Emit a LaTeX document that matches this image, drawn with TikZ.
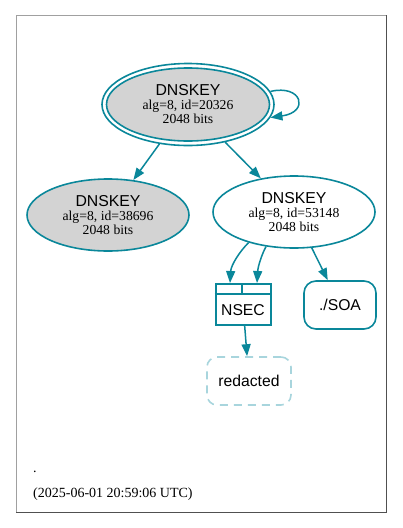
\documentclass[tikz,border=0pt]{standalone}
\usepackage{fontspec}
\setmainfont{Liberation Serif}
\setsansfont{Liberation Sans}
\usetikzlibrary{arrows.meta,shapes.geometric}
\definecolor{teal}{RGB}{10,135,154}
\definecolor{keygray}{RGB}{211,211,211}
\definecolor{paleteal}{RGB}{168,213,221}
\definecolor{frameL}{RGB}{160,160,160}
\definecolor{frameD}{RGB}{80,80,80}
\newcommand\keylabel[1]{{\sffamily\fontsize{15.8}{14}\selectfont DNSKEY}\\alg=8, id=#1\\2048 bits}
\tikzset{
  keynode/.style={ellipse, draw=teal, line width=1.6pt, inner sep=0pt, align=center,
    font=\fontsize{13.7}{14}\selectfont},
  edge/.style={draw=teal, line width=1.5pt, -{Triangle[length=12pt,width=9pt]}},
  boxline/.style={draw=teal, line width=2pt},
  sanslabel/.style={font=\sffamily\fontsize{15.7}{16}\selectfont, inner sep=0pt},
}
\begin{document}
\begin{tikzpicture}[x=1pt,y=-1pt]
\useasboundingbox (0,0) rectangle (403,528);
% frame
\draw[frameL, line width=1pt] (16,512) -- (16,15) -- (386,15);
\draw[frameD, line width=1pt] (386,15) -- (386,512) -- (16,512);
% top key (double ellipse)
\node[keynode, fill=white, minimum width=172pt, minimum height=82pt] (k1) at (188,104.5) {};
\node[keynode, fill=keygray, minimum width=163pt, minimum height=73pt] (k1in) at (k1.center) {\keylabel{20326}};
% left key
\node[keynode, fill=keygray, minimum width=162pt, minimum height=72pt] (k2) at (108,215) {\keylabel{38696}};
% right key
\node[keynode, fill=white, minimum width=162pt, minimum height=72pt] (k3) at (294,212) {\keylabel{53148}};
% NSEC
\node[boxline, rectangle, minimum width=55pt, minimum height=41pt, inner sep=0pt] (nsec) at (243,304.5) {};
\draw[boxline] ([yshift=-11pt]nsec.north west) -- ([yshift=-11pt]nsec.north east);
\draw[boxline] ([xshift=-1pt]nsec.north) -- ([xshift=-1pt,yshift=-11pt]nsec.north);
\node[sanslabel] (nsect) at (243,310) {NSEC};
\coordinate (nl) at (230,283);
\coordinate (nr) at (257,283);
% SOA
\node[draw=teal, line width=1.6pt, rounded corners=12pt, minimum width=72pt, minimum height=48pt,
      inner sep=0pt, sanslabel] (soa) at (340,305) {./SOA};
% redacted
\node[draw=paleteal, line width=1.6pt, dash pattern=on 8pt off 6pt, rounded corners=10pt,
      minimum width=84pt, minimum height=48pt, inner sep=0pt, sanslabel] (red) at (249,381) {redacted};
% edges
\draw[edge] (k1.9) .. controls (302,84) and (310,112) .. (k1.-9);
\draw[edge] (k1) -- (k2);
\draw[edge] (k1) -- (k3);
\draw[edge] (k3.214) .. controls (240,251) and (231,265) .. (nl);
\draw[edge] (k3.231) .. controls (262,254) and (258,266) .. (nr);
\draw[edge] (k3) -- (soa);
\draw[edge] (nsec) -- (red);
% footer
\node[anchor=base west, inner sep=0pt, font=\fontsize{14}{16}\selectfont] (dot) at (33,472) {.};
\node[anchor=base west, inner sep=0pt, font=\fontsize{14}{16}\selectfont] (stamp) at (33,497) {(2025-06-01 20:59:06 UTC)};
\end{tikzpicture}
\end{document}
